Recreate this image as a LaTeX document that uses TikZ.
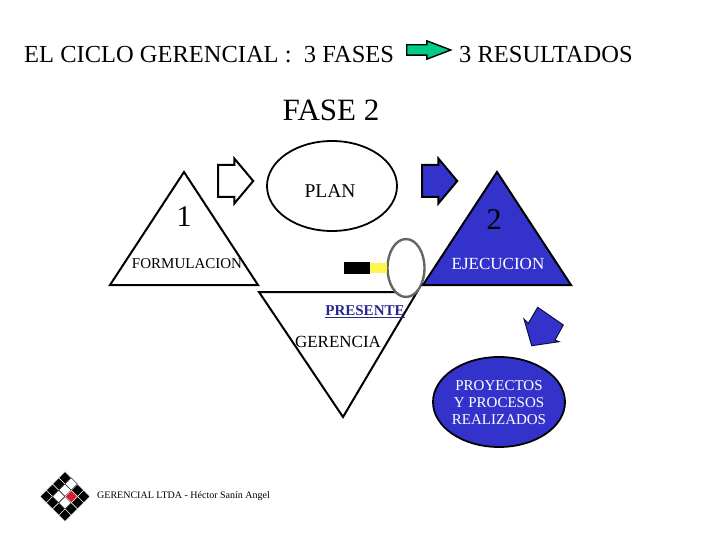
\documentclass[tikz,border=0pt]{standalone}
\usepackage{fontspec}
\setmainfont{Liberation Serif}
\usetikzlibrary{
  shapes.geometric,
  shapes.arrows
}
\definecolor{royal}{RGB}{51,51,204}
\definecolor{sea}{RGB}{0,204,136}
\definecolor{inkblue}{RGB}{40,40,140}
\definecolor{spotred}{RGB}{215,30,50}

\begin{document}
\begin{tikzpicture}[
            x=1pt, y=-1pt,
            lbl/.style={inner sep=0pt, font=\fontsize{15}{15}\selectfont},
            head/.style={inner sep=0pt, font=\fontsize{24.5}{24.5}\selectfont},
            block/.style={single arrow, draw=black, line width=2pt, inner xsep=0pt, inner ysep=15pt, minimum height=35pt, minimum width=44pt, single arrow head extend=6.5pt, single arrow tip angle=100},
            tile/.style={diamond, fill=black, draw=white, line width=0.4pt, inner sep=0pt, minimum width=12.5pt, minimum height=12.5pt}
        ]
            \useasboundingbox (0,0) rectangle (720,540);
            % Heading
            \node[head, anchor=west] (title) at (24,54.5) {EL CICLO GERENCIAL :\ \ 3 FASES};
            \node[block, fill=sea, line width=1.4pt, inner ysep=4.5pt, minimum height=44pt, minimum width=17pt, single arrow head extend=4pt, single arrow tip angle=42] (link) at (422,50) {};
            \node[head, anchor=west] (result) at (459,54.5) {3 RESULTADOS};
            \node[head, font=\fontsize{31}{31}\selectfont] (phase) at (331,110) {FASE 2};
            % Triangles
            \draw[line width=2pt, fill=white] (259,292) coordinate (low1) -- (417,292) coordinate (low2) -- (343,417) coordinate (low3) -- cycle;
            \draw[line width=2pt, fill=white] (184,172) coordinate (left1) -- (258,285) coordinate (left2) -- (110,285) coordinate (left3) -- cycle;
            % Lens
            \node[draw=black!60, line width=2.4pt, fill=white, ellipse, inner sep=0pt, minimum width=37pt, minimum height=58pt] (lens) at (406,268) {};
            \node[fill=yellow!70!white, inner sep=0pt, minimum width=17pt, minimum height=10pt] (grip) at (378.5,268) {};
            \node[fill=black, inner sep=0pt, minimum width=26pt, minimum height=12pt] (handle) at (357,268) {};
            \draw[line width=2pt, fill=royal] (497,172) coordinate (right1) -- (571,285) coordinate (right2) -- (423,285) coordinate (right3) -- cycle;
            % Plan and results
            \node[draw=black, line width=1.8pt, ellipse, fill=white, inner sep=0pt, minimum width=130pt, minimum height=90pt] (plan) at (332,186) {};
            \node[draw=black, line width=1.8pt, ellipse, fill=royal, inner sep=0pt, minimum width=132pt, minimum height=90pt] (done) at (499,402) {};
            % Arrows
            \node[block, fill=white] (arrowa) at (229,181) {};
            \node[block, fill=royal] (arrowb) at (433,181) {};
            \draw[line width=1pt, draw=black!70!royal, fill=royal] (524,319) -- (528.3,323.3) -- (537.7,307.3) -- (563.3,325) -- (555,340) -- (559,341.7) -- (531.7,345.7) -- cycle;
            % Labels
            \node[lbl, font=\fontsize{19.5}{19.5}\selectfont] (plantext) at (330,191) {PLAN};
            \node[lbl, font=\fontsize{30}{30}\selectfont] (one) at (184,217) {1};
            \node[lbl, font=\fontsize{30}{30}\selectfont] (two) at (494,220) {2};
            \node[lbl] (form) at (187,264) {FORMULACION};
            \node[lbl, text=white, font=\fontsize{17}{17}\selectfont] (exec) at (498,264) {EJECUCION};
            \node[lbl, text=inkblue, font=\fontsize{15}{15}\selectfont\bfseries] (now) at (365,312) {\underline{PRESENTE}};
            \node[lbl, font=\fontsize{17}{17}\selectfont] (mgmt) at (338,342) {GERENCIA};
            \node[lbl, align=center, text=white, font=\fontsize{15}{17}\selectfont] (donetext) at (499,403) {PROYECTOS\\Y PROCESOS\\REALIZADOS};
            % Logo
            \foreach \i in {0,...,3}
                \foreach \j in {0,...,3}
                    \node[tile] (tile\i\j) at ({65+(\i-\j)*6.25},{496.5+(\i+\j-3)*6.25}) {};
            \foreach \i/\j in {1/0,1/1,1/2,2/2}
                \node[tile, fill=white, draw=black] (pale\i\j) at ({65+(\i-\j)*6.25},{496.5+(\i+\j-3)*6.25}) {};
            \node[tile, fill=spotred] (spot) at ({65+(2-1)*6.25},{496.5+(2+1-3)*6.25}) {};
            \node[lbl, anchor=west, font=\fontsize{10}{10}\selectfont] (firm) at (97,496) {GERENCIAL LTDA - Héctor Sanín Angel};
        \end{tikzpicture}
\end{document}
